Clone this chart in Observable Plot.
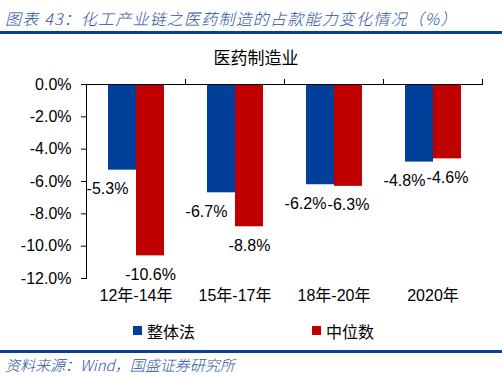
<!DOCTYPE html>
<html><head><meta charset="utf-8">
<script src="https://cdn.jsdelivr.net/npm/d3@7"></script>
<script src="https://cdn.jsdelivr.net/npm/@observablehq/plot@0.6"></script>
<style>
body{margin:0;background:#fff;}
#wrap{position:relative;width:502px;height:376px;overflow:hidden;font-family:'Liberation Sans','Noto Sans CJK SC',sans-serif;}
.hdr{position:absolute;left:5px;color:#2a52a0;font-style:italic;font-family:'Noto Sans CJK SC',sans-serif;font-weight:300;white-space:nowrap;}
.line{position:absolute;left:0;width:502px;height:3px;background:#0b3f97;}
#sub{position:absolute;top:44px;left:0;width:512px;text-align:center;font-size:17px;font-family:'Noto Sans CJK SC',sans-serif;}
#legend{position:absolute;top:319px;left:0;width:502px;font-size:16px;font-family:'Noto Sans CJK SC',sans-serif;}
.sw{position:absolute;width:9px;height:9px;top:7px;}
.lt{position:absolute;top:0;}
#chart{position:absolute;top:0;left:0;}
</style></head>
<body>
<div id="wrap">
  <div class="hdr" id="title" style="top:6px;font-size:16px;letter-spacing:1.2px;">图表 43：化工产业链之医药制造的占款能力变化情况（%）</div>
  <div class="line" style="top:31px;"></div>
  <div id="chart"></div>
  <div id="sub">医药制造业</div>
  <div id="legend"></div>
  <div class="line" style="top:350px;"></div>
  <div class="hdr" id="caption" style="top:354px;font-size:15px;">资料来源：Wind，国盛证券研究所</div>
</div>
<script>
const categories = ["12年-14年", "15年-17年", "18年-20年", "2020年"];
const seriesNames = ["整体法", "中位数"];
const overallValues = [-5.3, -6.7, -6.2, -4.8];
const medianValues = [-10.6, -8.8, -6.3, -4.6];
const yTicks = [0, -2, -4, -6, -8, -10, -12];
const colors = ["#00409A", "#C00000"];

const data = [];
categories.forEach((c, i) => {
  data.push({category: c, series: seriesNames[0], value: overallValues[i]});
  data.push({category: c, series: seriesNames[1], value: medianValues[i]});
});

const chart = Plot.plot({
  width: 502, height: 320,
  marginTop: 84, marginLeft: 85, marginRight: 20, marginBottom: 42,
  style: {fontFamily: "'Liberation Sans','Noto Sans CJK SC',sans-serif", fontSize: "16px", color: "#000", background: "transparent"},
  fx: {domain: categories, padding: 0, label: null, axis: "bottom", tickSize: 0, tickPadding: 11},
  x: {domain: seriesNames, axis: null, paddingInner: 0, paddingOuter: 0.74},
  y: {domain: [-12, 0], axis: null},
  color: {domain: seriesNames, range: colors},
  marks: [
    Plot.barY(data, {fx: "category", x: "series", y: "value", fill: "series", inset: 0}),
    Plot.ruleY([0], {stroke: "#000", strokeWidth: 1}),
    Plot.frame({anchor: "right", insetTop: -5, insetBottom: 194, stroke: "#000"}),
    Plot.frame({anchor: "left", facetAnchor: "left", stroke: "#000"}),
    Plot.axisY({ticks: yTicks, tickSize: 5, tickPadding: 10, tickFormat: d => d.toFixed(1) + "%", label: null, fontSize: 16}),
    Plot.text(data, {filter: d => d.series === seriesNames[0], fx: "category", x: "series", y: "value",
      text: d => d.value.toFixed(1) + "%", dy: 19, dx: -15, fill: "#000", fontSize: 16}),
    Plot.text(data, {filter: d => d.series === seriesNames[1], fx: "category", x: "series", y: "value",
      text: d => d.value.toFixed(1) + "%", dy: 19, fill: "#000", fontSize: 16})
  ]
});
document.getElementById("chart").appendChild(chart);

const legend = document.getElementById("legend");
const legendX = [133, 312];
seriesNames.forEach((s, i) => {
  const sw = document.createElement("div");
  sw.className = "sw"; sw.style.left = legendX[i] + "px"; sw.style.background = colors[i];
  legend.appendChild(sw);
  const t = document.createElement("div");
  t.className = "lt"; t.style.left = (legendX[i] + 14) + "px"; t.textContent = s;
  legend.appendChild(t);
});
</script>
</body></html>
